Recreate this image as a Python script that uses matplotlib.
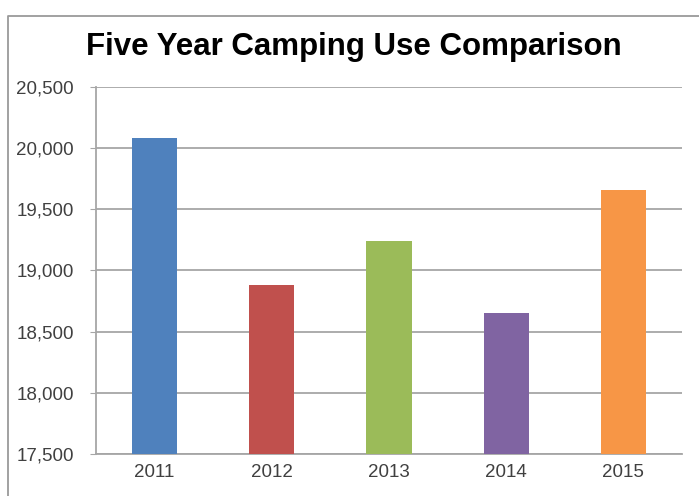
import matplotlib
matplotlib.use('Agg')
import matplotlib.pyplot as plt
from matplotlib.lines import Line2D

years = ['2011', '2012', '2013', '2014', '2015']
campers = [20080, 18885, 19245, 18650, 19660]
bar_colors = ['#4F81BD', '#C0504D', '#9BBB59', '#8064A2', '#F79646']
y_ticks = [17500, 18000, 18500, 19000, 19500, 20000, 20500]

plt.rcParams['font.family'] = ['Liberation Sans', 'DejaVu Sans']

fig = plt.figure(figsize=(6.99, 4.96), dpi=100)
ax = fig.add_axes([0.1373, 0.0847, 0.8384, 0.7399])

# outer chart border (top and left edges are all that show)
bx, by = 8 / 699, 1 - 16 / 496
fig.lines.append(Line2D([bx, bx, 1.0], [0.0, by, by], transform=fig.transFigure,
                        color='#9a9a9a', linewidth=1.3))

ax.bar(range(len(years)), campers, width=0.385, color=bar_colors, zorder=3)

ax.set_ylim(17500, 20500)
ax.set_xlim(-0.5, len(years) - 0.5)
ax.set_yticks(y_ticks)
ax.set_yticklabels([f'{v:,}' for v in y_ticks])
ax.set_xticks(range(len(years)))
ax.set_xticklabels(years)

ax.yaxis.grid(True, color='#a6a6a6', linewidth=1.3, zorder=0)
for side in ['top', 'right']:
    ax.spines[side].set_visible(False)
for side in ['left', 'bottom']:
    ax.spines[side].set_color('#a6a6a6')
    ax.spines[side].set_linewidth(1.3)

ax.tick_params(axis='y', length=4, color='#a6a6a6', labelsize=13.5,
               labelcolor='#404040', pad=12)
ax.tick_params(axis='x', length=0, labelsize=13.5, labelcolor='#404040', pad=7)

fig.text(0.506, 1 - 47 / 496, 'Five Year Camping Use Comparison',
         ha='center', va='center', fontsize=22.5, fontweight='bold', color='#000000')

fig.savefig('out.png', dpi=100)
